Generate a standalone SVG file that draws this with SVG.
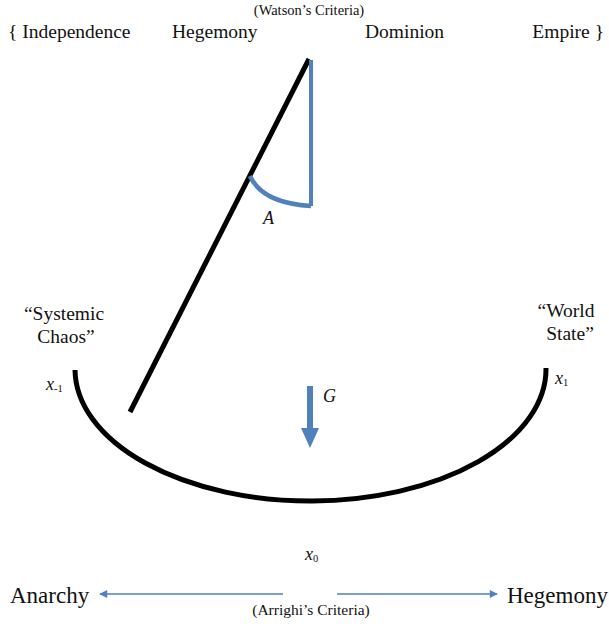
<svg xmlns="http://www.w3.org/2000/svg" width="609" height="624" viewBox="0 0 609 624">
<defs>
<style>
text{font-family:"Liberation Serif","Times New Roman",serif;fill:#111}
.lbl{font-size:19.5px}
.big{font-size:23px}
.small{font-size:14.5px}
.it{font-style:italic;font-size:18px}
.sub{font-size:10.5px;font-style:normal}
.blue{stroke:#4F81BD;fill:none}
</style>
<marker id="ah" viewBox="0 0 10 10" refX="9" refY="5" markerWidth="10" markerHeight="8" markerUnits="userSpaceOnUse" orient="auto">
<path d="M0,0 L10,5 L0,10 z" fill="#4F81BD"/>
</marker>
</defs>
<rect width="609" height="624" fill="#fff"/>

<g id="watson">
<text class="small" x="309" y="15" text-anchor="middle">(Watson’s Criteria)</text>
<text class="lbl" x="8" y="38">{ Independence</text>
<text class="lbl" x="172" y="38">Hegemony</text>
<text class="lbl" x="365" y="38">Dominion</text>
<text class="lbl" x="604" y="38" text-anchor="end">Empire }</text>
</g>

<g id="labels">
<text class="lbl" x="64" y="320" text-anchor="middle">“Systemic</text>
<text class="lbl" x="66" y="343" text-anchor="middle">Chaos”</text>
<text class="lbl" x="566" y="317" text-anchor="middle">“World</text>
<text class="lbl" x="570" y="340" text-anchor="middle">State”</text>
<text class="it" x="46" y="390">x<tspan class="sub" dy="2">-1</tspan></text>
<text class="it" x="555" y="384">x<tspan class="sub" dy="2">1</tspan></text>
<text class="it" x="305" y="560">x<tspan class="sub" dy="2">0</tspan></text>
<text class="it" x="263" y="224">A</text>
<text class="it" x="323" y="402">G</text>
</g>

<g id="bowl">
<path d="M75,370 A235.5,132 0 0 0 546,368" fill="none" stroke="#000" stroke-width="5"/>
</g>

<g id="pendulum">
<line x1="309" y1="59" x2="130" y2="412" stroke="#000" stroke-width="5"/>
<line x1="311" y1="60" x2="311" y2="206" class="blue" stroke-width="4"/>
<path d="M250,176 Q262,203 311,206" class="blue" stroke-width="4.5"/>
</g>

<g id="gravity">
<path d="M307,386 L313,386 L313,428 L319,428 L310,448 L301,428 L307,428 Z" fill="#4F81BD"/>
</g>

<g id="connectors">
<line x1="283" y1="594" x2="100" y2="594" class="blue" stroke-width="1.5" marker-end="url(#ah)"/>
<line x1="337" y1="594" x2="497" y2="594" class="blue" stroke-width="1.5" marker-end="url(#ah)"/>
</g>

<g id="arrighi">
<text class="big" x="10" y="603">Anarchy</text>
<text class="big" x="507" y="603">Hegemony</text>
<text class="small" x="311" y="615" text-anchor="middle" style="font-size:15.5px">(Arrighi’s Criteria)</text>
</g>
</svg>
